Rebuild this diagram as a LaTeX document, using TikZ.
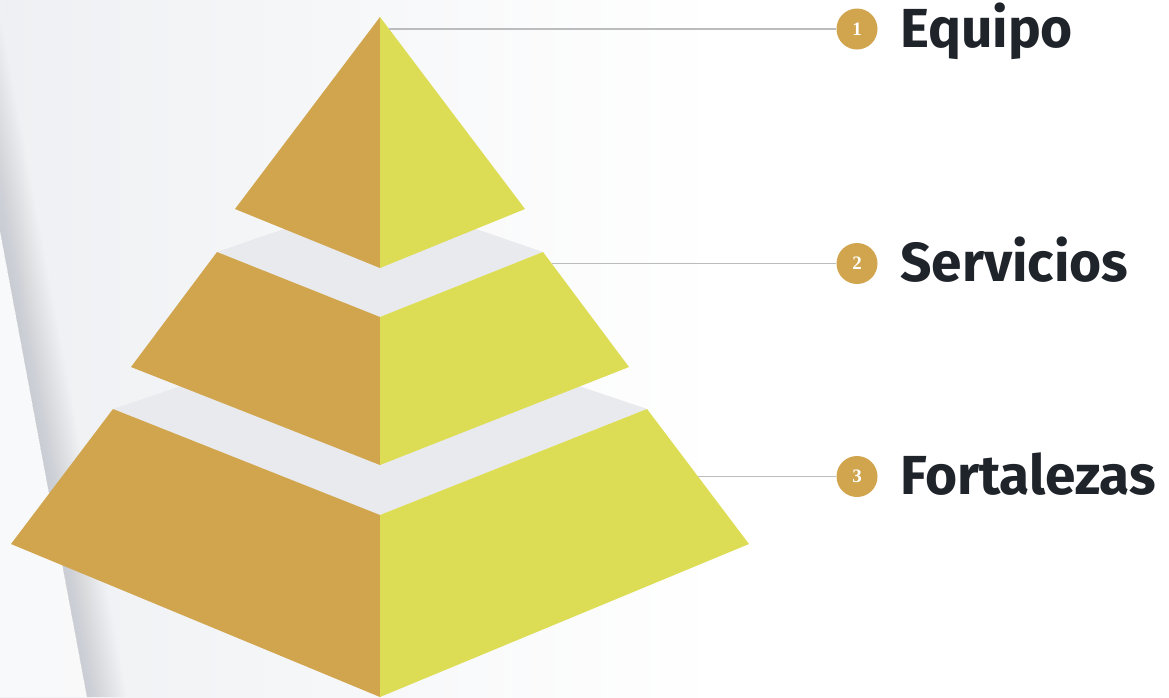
\documentclass[tikz,border=0pt]{standalone}
\usepackage{fontspec}
\setmainfont{Fira Sans}
\newfontfamily\numfont{Liberation Serif}
\usetikzlibrary{calc}
\definecolor{tan}{RGB}{209,165,77}
\definecolor{lime}{RGB}{221,221,85}
\definecolor{shelf}{RGB}{233,234,237}
\definecolor{bgc}{RGB}{238,240,243}
\definecolor{fold}{RGB}{120,125,135}
\definecolor{ink}{RGB}{31,36,43}
\definecolor{rule}{RGB}{188,188,190}

\begin{document}
\begin{tikzpicture}[x=1pt,y=-1pt,
	num/.style={circle,fill=tan,minimum size=41pt,inner sep=0pt,text=white,
		font=\numfont\bfseries\fontsize{19}{19}\selectfont},
	lab/.style={anchor=base west,inner sep=0pt,text=ink,
		font=\bfseries\fontsize{55}{60}\selectfont},
	link/.style={draw=rule,line width=1.6pt}]
\useasboundingbox (0,0) rectangle (1169,697);

% background
\fill[white] (0,0) rectangle (1169,697);
\shade[left color=bgc, right color=white] (0,0) rectangle (720,697);
\fill[white,opacity=0.6] (-43,0) -- (87,697) -- (0,697) -- (0,0) -- cycle;
\foreach \i in {1,...,20}
	\fill[fold,opacity=0.012] (-43,0) -- (87,697) -- ({87+2*\i},697) -- ({-43+2*\i},0) -- cycle;

% pyramid
\coordinate (apex) at (380,17);
\coordinate (t1l) at (235,209); \coordinate (t1r) at (525,209); \coordinate (t1b) at (380,268);
\coordinate (t2k) at (380,196); \coordinate (t2l) at (217,252); \coordinate (t2r) at (543,252);
\coordinate (t2f) at (380,317); \coordinate (t2bl) at (131,367); \coordinate (t2br) at (629,367);
\coordinate (t2b) at (380,465);
\coordinate (t3k) at (380,319); \coordinate (t3l) at (113,409); \coordinate (t3r) at (647,409);
\coordinate (t3f) at (380,515); \coordinate (t3bl) at (11,544); \coordinate (t3br) at (749,544);
\coordinate (t3b) at (380,697);

\fill[shelf] (t3l) -- (t3k) -- (t3r) -- (t3f) -- cycle;
\fill[tan] (t3l) -- (t3f) -- (t3b) -- (t3bl) -- cycle;
\fill[lime] (t3f) -- (t3r) -- (t3br) -- (t3b) -- cycle;
\fill[shelf] (t2l) -- (t2k) -- (t2r) -- (t2f) -- cycle;
\fill[tan] (t2l) -- (t2f) -- (t2b) -- (t2bl) -- cycle;
\fill[lime] (t2f) -- (t2r) -- (t2br) -- (t2b) -- cycle;
\fill[tan] (apex) -- (t1b) -- (t1l) -- cycle;
\fill[lime] (apex) -- (t1r) -- (t1b) -- cycle;

% labels
\coordinate (e1) at ($(apex)!0.0625!(t1r)$);
\coordinate (e2) at ($(t2r)!0.1!(t2br)$);
\coordinate (e3) at ($(t3r)!0.5!(t3br)$);
\foreach \n/\t in {1/Equipo,2/Servicios,3/Fortalezas}{
	\node[num] (c\n) at (857,0 |- e\n) {\n};
	\draw[link] (e\n) -- (c\n);
	\node[lab] (l\n) at ([shift={(43,18)}]c\n.center) {\t};
}
\end{tikzpicture}
\end{document}
